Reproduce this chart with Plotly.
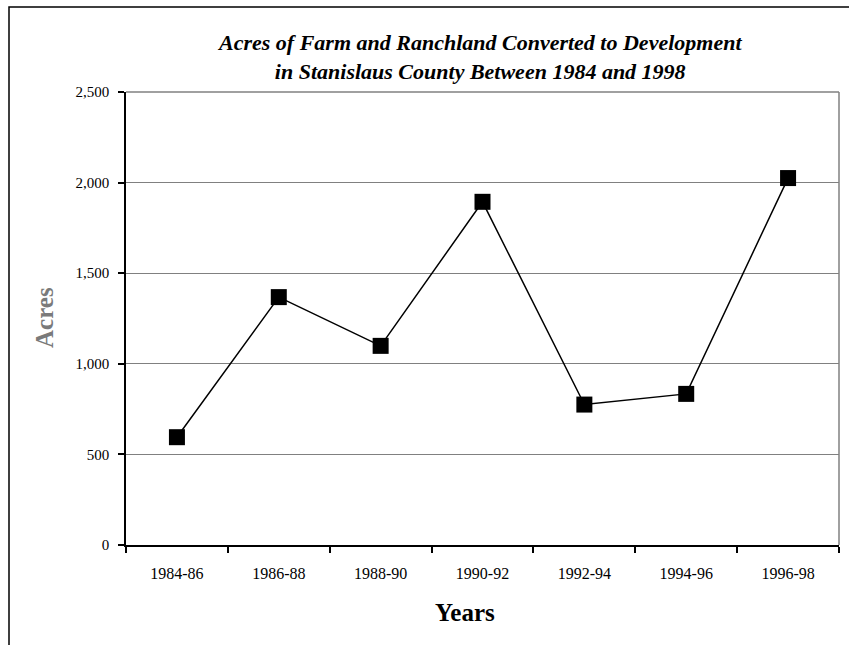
import plotly.graph_objects as go

# Two-year periods and acres converted in each
periods = ["1984-86", "1986-88", "1988-90", "1990-92", "1992-94", "1994-96", "1996-98"]
acres = [595, 1368, 1099, 1894, 775, 834, 2025]

y_ticks = [0, 500, 1000, 1500, 2000, 2500]

W, H = 849, 645
L, R, T, B = 126, 10, 92, 100
pw, ph = W - L - R, H - T - B


def px_x(px):
    return (px - L) / pw


def px_y(py):
    return (H - B - py) / ph


serif = "Liberation Serif"

fig = go.Figure()
fig.add_trace(go.Scatter(
    x=periods, y=acres, mode="lines+markers",
    line=dict(color="black", width=1.5),
    marker=dict(symbol="square", size=16, color="black"),
    showlegend=False, cliponaxis=False,
))

fig.update_layout(
    width=W, height=H,
    margin=dict(l=L, r=R, t=T, b=B),
    paper_bgcolor="white", plot_bgcolor="white",
    font=dict(family=serif, size=15, color="black"),
    xaxis=dict(
        type="category", range=[-0.5, 6.5], tickson="boundaries",
        showline=True, linecolor="black", linewidth=1.5,
        ticks="outside", ticklen=6, tickcolor="black", tickwidth=1.5,
        showgrid=False, ticklabelstandoff=13,
        tickfont=dict(family=serif, size=16),
    ),
    yaxis=dict(
        range=[0, 2500], tickvals=y_ticks, tickformat=",",
        showline=True, linecolor="black", linewidth=1.5,
        ticks="outside", ticklen=6, tickcolor="black", tickwidth=1.5,
        showgrid=True, gridcolor="#808080", gridwidth=1,
        zeroline=False, ticklabelstandoff=6,
        tickfont=dict(family=serif, size=15),
    ),
    shapes=[
        # plot-area frame (top and right edges)
        dict(type="line", xref="paper", yref="paper", x0=0, x1=1, y0=1, y1=1,
             line=dict(color="#808080", width=1.5)),
        dict(type="line", xref="paper", yref="paper", x0=1, x1=1, y0=0, y1=1,
             line=dict(color="#808080", width=1.5)),
        # outer chart border
        dict(type="rect", xref="paper", yref="paper",
             x0=px_x(9), x1=px_x(W + 20), y0=px_y(H + 20), y1=px_y(7),
             line=dict(color="black", width=1.5), fillcolor="rgba(0,0,0,0)",
             layer="below"),
    ],
    annotations=[
        dict(text="<b><i>Acres of Farm and Ranchland Converted to Development<br>"
                  "in Stanislaus County Between 1984 and 1998</i></b>",
             xref="paper", yref="paper", x=px_x(479), y=px_y(57),
             xanchor="center", yanchor="middle", showarrow=False,
             font=dict(family=serif, size=22, color="black")),
        dict(text="<b>Years</b>", xref="paper", yref="paper",
             x=px_x(465), y=px_y(612), xanchor="center", yanchor="middle",
             showarrow=False, font=dict(family=serif, size=25, color="black")),
        dict(text="<b>Acres</b>", xref="paper", yref="paper",
             x=px_x(44), y=px_y(318), xanchor="center", yanchor="middle",
             textangle=-90, showarrow=False,
             font=dict(family=serif, size=25, color="#7a7a7a")),
    ],
)

fig.write_html("out.html")
